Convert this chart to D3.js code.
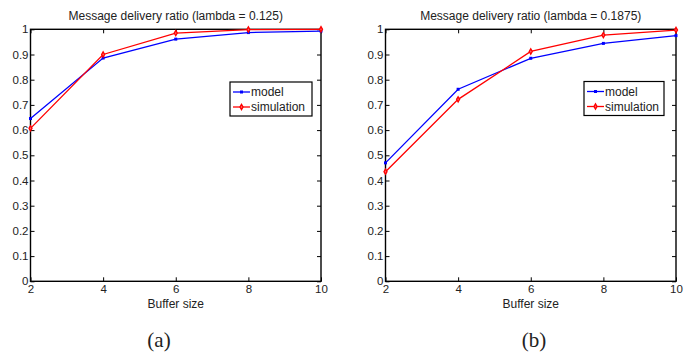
<!DOCTYPE html>
<html>
<head>
<meta charset="utf-8">
<script src="https://cdn.jsdelivr.net/npm/d3@7"></script>
<style>
  body { margin: 0; background: #fff; }
  svg text { font-family: "Liberation Sans", Arial, sans-serif; fill: #222; }
  .caption { font-family: "Liberation Serif", "Times New Roman", serif; font-size: 21px; }
</style>
</head>
<body>
<div id="chart"></div>
<script>
// buffer sizes on x axis
const bufferSizes = [2, 4, 6, 8, 10];
const yTicks = [0, 0.1, 0.2, 0.3, 0.4, 0.5, 0.6, 0.7, 0.8, 0.9, 1];

// panel (a): lambda = 0.125
const modelA = [0.646, 0.886, 0.961, 0.987, 0.993];
const simA = [0.607, 0.900, 0.985, 0.999, 1.0];

// panel (b): lambda = 0.1875
const modelB = [0.470, 0.762, 0.885, 0.944, 0.975];
const simB = [0.435, 0.722, 0.912, 0.977, 0.997];

const titles = ['Message delivery ratio (lambda = 0.125)', 'Message delivery ratio (lambda = 0.1875)'];
const captions = ['(a)', '(b)'];
const seriesNames = ['model', 'simulation'];

const svg = d3.select('#chart').append('svg')
    .attr('width', 694)
    .attr('height', 354);

const panels = [
  {left: 30.5, right: 321, model: modelA, sim: simA, legend: {x: 230, y: 82, w: 82, h: 34}, capX: 159},
  {left: 385.5, right: 676, model: modelB, sim: simB, legend: {x: 584, y: 81.5, w: 80, h: 34}, capX: 534}
];
const plotTop = 29.3, plotBottom = 281.3;

panels.forEach((p, i) => {
  const x = d3.scaleLinear().domain([2, 10]).range([p.left, p.right]);
  const y = d3.scaleLinear().domain([0, 1]).range([plotBottom, plotTop]);
  const g = svg.append('g');

  // title
  g.append('text')
      .attr('x', (p.left + p.right) / 2)
      .attr('y', 20)
      .attr('text-anchor', 'middle')
      .attr('font-size', 12)
      .text(titles[i]);

  // axes (inward ticks, box style)
  const tickStyle = ax => ax.call(a => a.select('.domain').remove())
      .call(a => a.selectAll('text').attr('font-size', 11.5).attr('fill', '#222').style('font-family', '"Liberation Sans", Arial, sans-serif'))
      .call(a => a.selectAll('line').attr('stroke', '#000'));

  g.append('g')
      .attr('transform', `translate(0,${plotBottom})`)
      .call(d3.axisBottom(x).tickValues(bufferSizes).tickSize(-4).tickPadding(4).tickFormat(d3.format('d')))
      .call(tickStyle);
  g.append('g')
      .attr('transform', `translate(0,${plotTop})`)
      .call(d3.axisTop(x).tickValues(bufferSizes).tickSize(-4).tickFormat(''))
      .call(tickStyle);
  g.append('g')
      .attr('transform', `translate(${p.left},0)`)
      .call(d3.axisLeft(y).tickValues(yTicks).tickSize(-4).tickPadding(2).tickFormat(d => d === 0 || d === 1 ? d3.format('d')(d) : d3.format('.1f')(d)))
      .call(tickStyle);
  g.append('g')
      .attr('transform', `translate(${p.right},0)`)
      .call(d3.axisRight(y).tickValues(yTicks).tickSize(-4).tickFormat(''))
      .call(tickStyle);

  // box
  g.append('rect')
      .attr('x', p.left).attr('y', plotTop)
      .attr('width', p.right - p.left).attr('height', plotBottom - plotTop)
      .attr('fill', 'none').attr('stroke', '#000').attr('stroke-width', 1.4);

  // x label
  g.append('text')
      .attr('x', (p.left + p.right) / 2)
      .attr('y', 308)
      .attr('text-anchor', 'middle')
      .attr('font-size', 12)
      .text('Buffer size');

  // caption
  g.append('text')
      .attr('class', 'caption')
      .attr('x', p.capX)
      .attr('y', 347)
      .attr('text-anchor', 'middle')
      .text(captions[i]);

  const line = d3.line().x((d, k) => x(bufferSizes[k])).y(d => y(d));
  const diamond = d3.symbol().type(d3.symbolDiamond).size(8);

  // model line
  g.append('path').datum(p.model)
      .attr('d', line).attr('fill', 'none').attr('stroke', '#0000ff').attr('stroke-width', 1.3);
  g.selectAll('.mm').data(p.model).join('rect')
      .attr('x', (d, k) => x(bufferSizes[k]) - 1.5).attr('y', d => y(d) - 1.5)
      .attr('width', 3).attr('height', 3).attr('fill', '#0000ff');

  // simulation line
  g.append('path').datum(p.sim)
      .attr('d', line).attr('fill', 'none').attr('stroke', '#ff0000').attr('stroke-width', 1.3);
  g.selectAll('.sm').data(p.sim).join('path')
      .attr('transform', (d, k) => `translate(${x(bufferSizes[k])},${y(d)})`)
      .attr('d', diamond).attr('fill', '#ff6666').attr('stroke', '#ff0000').attr('stroke-width', 1.3);

  // legend
  const L = p.legend;
  const lg = g.append('g');
  lg.append('rect').attr('x', L.x).attr('y', L.y).attr('width', L.w).attr('height', L.h)
      .attr('fill', '#fff').attr('stroke', '#000').attr('stroke-width', 1.2);
  const colors = ['#0000ff', '#ff0000'];
  seriesNames.forEach((name, k) => {
    const ly = L.y + 10 + k * 15;
    lg.append('line').attr('x1', L.x + 3).attr('x2', L.x + 20).attr('y1', ly).attr('y2', ly)
        .attr('stroke', colors[k]).attr('stroke-width', 1.3);
    if (k === 0) {
      lg.append('rect').attr('x', L.x + 10).attr('y', ly - 1.5).attr('width', 3).attr('height', 3).attr('fill', colors[k]);
    } else {
      lg.append('path').attr('transform', `translate(${L.x + 11.5},${ly})`).attr('d', diamond)
          .attr('fill', '#ff6666').attr('stroke', colors[k]).attr('stroke-width', 1.3);
    }
    lg.append('text').attr('x', L.x + 21).attr('y', ly + 4)
        .attr('font-size', 12).text(name);
  });
});
</script>
</body>
</html>
